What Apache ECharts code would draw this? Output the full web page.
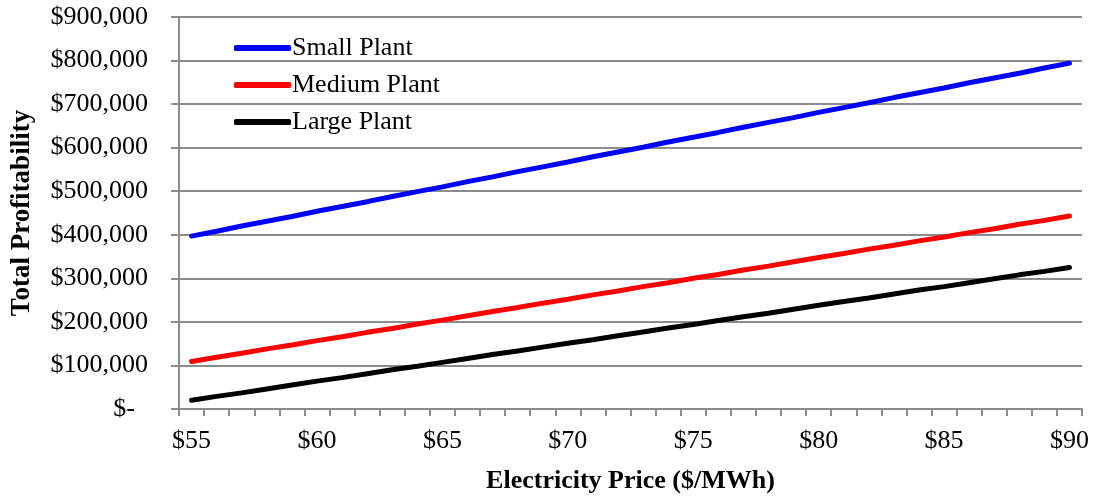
<!DOCTYPE html>
<html>
<head>
<meta charset="utf-8">
<script src="https://cdn.jsdelivr.net/npm/echarts@6/dist/echarts.min.js"></script>
<style>
  html, body { margin: 0; padding: 0; background: #fff; }
  #chart { width: 1098px; height: 497px; }
</style>
</head>
<body>
<div id="chart"></div>
<script>
// Electricity price categories, $55 .. $90 per MWh
const prices = [];
for (let p = 55; p <= 90; p++) prices.push('$' + p);

// Total profitability by plant size (USD)
const smallPlant = [397000, 408000, 420000, 431000, 442000, 454000, 465000, 476000, 488000, 499000,
  510000, 522000, 533000, 545000, 556000, 567000, 579000, 590000, 601000, 613000,
  624000, 635000, 647000, 658000, 669000, 681000, 692000, 703000, 715000, 726000,
  737000, 749000, 760000, 771000, 783000, 794000];
const mediumPlant = [109000, 119000, 128000, 138000, 147000, 157000, 166000, 176000, 185000, 195000,
  204000, 214000, 224000, 233000, 243000, 252000, 262000, 271000, 281000, 290000,
  300000, 309000, 319000, 328000, 338000, 348000, 357000, 367000, 376000, 386000,
  395000, 405000, 414000, 424000, 433000, 443000];
const largePlant = [20000, 29000, 37000, 46000, 55000, 64000, 72000, 81000, 90000, 98000,
  107000, 116000, 125000, 133000, 142000, 151000, 159000, 168000, 177000, 186000,
  194000, 203000, 212000, 220000, 229000, 238000, 247000, 255000, 264000, 273000,
  281000, 290000, 299000, 308000, 316000, 325000];

const seriesNames = ['Small Plant', 'Medium Plant', 'Large Plant'];
const seriesColors = ['#0000ff', '#ff0000', '#000000'];
const seriesData = [smallPlant, mediumPlant, largePlant];

const FONT = '"Liberation Serif", "Times New Roman", serif';
const GRID = '#8c8c8c';

function money(v) {
  if (v === 0) return '{z|$-}';
  return '$' + v.toLocaleString('en-US');
}

const chart = echarts.init(document.getElementById('chart'));
chart.setOption({
  animation: false,
  textStyle: { fontFamily: FONT },
  grid: { left: 179, right: 16, top: 17, bottom: 88, containLabel: false, outerBoundsMode: 'none' },
  legend: {
    orient: 'vertical',
    left: 229,
    top: 30,
    itemWidth: 57,
    itemHeight: 6,
    itemGap: 11,
    icon: 'roundRect',
    textStyle: { fontFamily: FONT, fontSize: 26, color: '#000', padding: [0, 0, 0, -4] },
    data: seriesNames
  },
  xAxis: {
    type: 'category',
    data: prices,
    boundaryGap: true,
    name: 'Electricity Price ($/MWh)',
    nameLocation: 'middle',
    nameGap: 59,
    nameTextStyle: { fontFamily: FONT, fontSize: 26, fontWeight: 'bold', color: '#000' },
    axisLine: { lineStyle: { color: GRID, width: 2 } },
    axisTick: { show: true, interval: 0, length: 7, lineStyle: { color: GRID, width: 2 } },
    axisLabel: { interval: 4, margin: 19, fontFamily: FONT, fontSize: 26, color: '#000' },
    splitLine: { show: false }
  },
  yAxis: {
    type: 'value',
    min: 0,
    max: 900000,
    interval: 100000,
    name: 'Total Profitability',
    nameLocation: 'middle',
    nameGap: 143,
    nameRotate: 90,
    nameTextStyle: { fontFamily: FONT, fontSize: 27, fontWeight: 'bold', color: '#000' },
    axisLine: { show: true, lineStyle: { color: GRID, width: 2 } },
    axisTick: { show: true, length: 8, lineStyle: { color: GRID, width: 2 } },
    axisLabel: {
      margin: 31,
      fontFamily: FONT,
      fontSize: 26,
      color: '#000',
      formatter: money,
      rich: { z: { fontFamily: FONT, fontSize: 26, color: '#000', padding: [0, 13, 0, 0] } }
    },
    splitLine: { show: true, lineStyle: { color: GRID, width: 2 } }
  },
  series: seriesNames.map((name, i) => ({
    name: name,
    type: 'line',
    data: seriesData[i],
    showSymbol: false,
    symbol: 'none',
    color: seriesColors[i],
    lineStyle: { color: seriesColors[i], width: 5, cap: 'round' },
    itemStyle: { color: seriesColors[i] }
  }))
});
</script>
</body>
</html>
